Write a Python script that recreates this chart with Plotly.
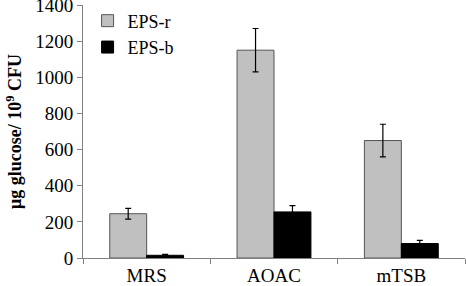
import plotly.graph_objects as go

categories = ["MRS", "AOAC", "mTSB"]
eps_r = [245, 1150, 650]
eps_r_err = [30, 120, 90]
eps_b = [15, 255, 80]
eps_b_err = [5, 35, 17]
y_ticks = [0, 200, 400, 600, 800, 1000, 1200, 1400]

font_family = "Liberation Serif"

fig = go.Figure()
fig.add_trace(go.Bar(
    x=categories, y=eps_r, name="EPS-r",
    marker=dict(color="#c0c0c0", line=dict(color="#555555", width=1)),
    error_y=dict(type="data", array=eps_r_err, color="black", thickness=1.2, width=3),
))
fig.add_trace(go.Bar(
    x=categories, y=eps_b, name="EPS-b",
    marker=dict(color="#000000", line=dict(color="#000000", width=1)),
    error_y=dict(type="data", array=eps_b_err, color="black", thickness=1.2, width=3),
))

fig.update_layout(
    width=466, height=286,
    margin=dict(l=83, r=1, t=5, b=28, autoexpand=False),
    paper_bgcolor="white", plot_bgcolor="white",
    barmode="group", bargap=0.42, bargroupgap=0,
    font=dict(family=font_family, size=19, color="black"),
    showlegend=True,
    legend=dict(x=0.012, y=1.01, xanchor="left", yanchor="top",
                font=dict(size=18), bgcolor="rgba(0,0,0,0)",
                tracegroupgap=0, itemwidth=30),
    xaxis=dict(type="category", tickson="boundaries", ticks="outside", ticklen=5,
               tickcolor="#808080", showline=True, linecolor="#808080", linewidth=1,
               showgrid=False, tickfont=dict(size=19), ticklabelstandoff=0),
    yaxis=dict(range=[0, 1400], tickvals=y_ticks, ticks="outside", ticklen=5,
               tickcolor="#808080", showline=True, linecolor="#808080", linewidth=1,
               showgrid=False, zeroline=False, tickfont=dict(size=19),
               ticklabeloverflow="allow",
               title=dict(text="<b>μg glucose/ 10<sup>9</sup> CFU</b>", font=dict(size=18), standoff=8)),
)

fig.write_html("out.html", config={"displayModeBar": False},
               post_script="document.body.style.margin='0px';")
